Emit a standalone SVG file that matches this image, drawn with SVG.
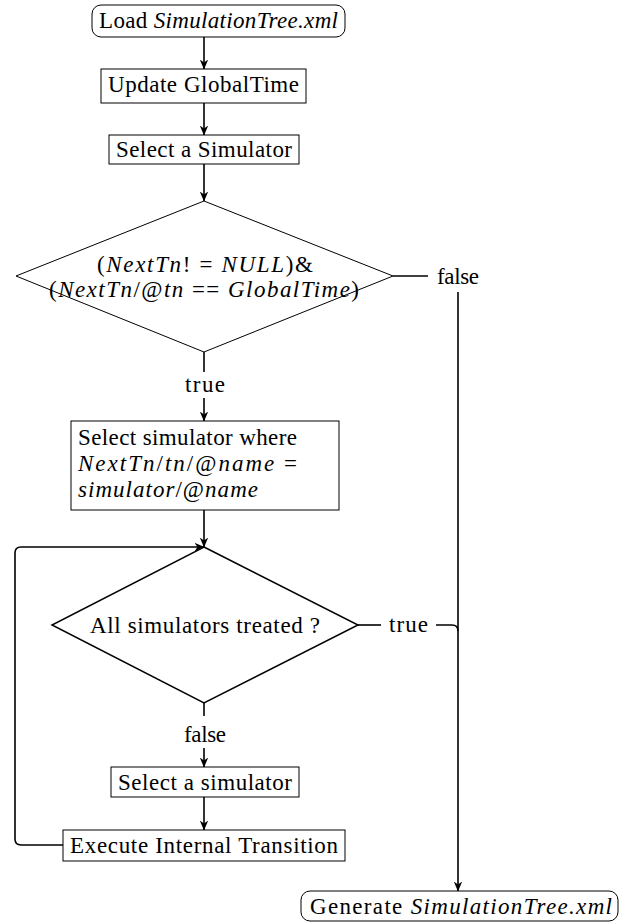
<svg xmlns="http://www.w3.org/2000/svg" width="625" height="922" viewBox="0 0 625 922">
  <style>
    text { font-family: "Liberation Serif", "Times New Roman", serif; font-size: 23px; fill: #000; }
    .it { font-style: italic; }
    .box { fill: #fff; stroke: #000; stroke-width: 1; }
    .dec1 { fill: none; stroke: #000; stroke-width: 1; }
    .dec2 { fill: none; stroke: #000; stroke-width: 1.5; }
    .edge { fill: none; stroke: #000; stroke-width: 1.6; }
    .arrow { fill: none; stroke: #000; stroke-width: 1.6; marker-end: url(#head); }
  </style>
  <defs>
    <marker id="head" markerUnits="userSpaceOnUse" viewBox="0 0 10 10" refX="9.5" refY="5" markerWidth="10" markerHeight="10" orient="auto">
      <path d="M0,0.8 L10,5 L0,9.2 L3,5 Z" fill="#000"/>
    </marker>
  </defs>

  <!-- connectors -->
  <g id="connectors">
    <path class="arrow" d="M204,37 L204,69"/>
    <path class="arrow" d="M204,103 L204,135"/>
    <path class="arrow" d="M204,164 L204,201"/>
    <path class="edge" d="M204,352 L204,372"/>
    <path class="arrow" d="M204,398 L204,421"/>
    <path class="edge" d="M393,276 L428,276"/>
    <path class="arrow" d="M458,292 L458,891"/>
    <path class="arrow" d="M204,510 L204,547"/>
    <path class="edge" d="M358,625 L381,625"/>
    <path class="edge" d="M436,625 L452,625 Q458,625 458,631"/>
    <path class="edge" d="M204,703 L204,716"/>
    <path class="arrow" d="M204,748 L204,767"/>
    <path class="arrow" d="M204,797 L204,830"/>
    <path class="arrow" d="M63,845 L21,845 Q15,845 15,839 L15,553 Q15,547 21,547 L204,547"/>
  </g>

  <g id="load">
    <rect class="box" x="92" y="5" width="253" height="32" rx="9"/>
    <text x="99" y="28" textLength="239">Load <tspan class="it">SimulationTree.xml</tspan></text>
  </g>

  <g id="update-time">
    <rect class="box" x="101" y="69" width="205" height="34"/>
    <text x="108" y="92" textLength="191">Update GlobalTime</text>
  </g>

  <g id="select-first">
    <rect class="box" x="109" y="135" width="190" height="29"/>
    <text x="116" y="157" textLength="176">Select a Simulator</text>
  </g>

  <g id="check-next">
    <path class="dec1" d="M204,201 L393,276 L204,352 L16,276 Z"/>
    <text x="97" y="272" textLength="216">(<tspan class="it">NextTn</tspan>! = <tspan class="it">NULL</tspan>)&amp;</text>
    <text x="49" y="297" textLength="310">(<tspan class="it">NextTn</tspan>/@<tspan class="it">tn</tspan> == <tspan class="it">GlobalTime</tspan>)</text>
  </g>

  <g id="label-false-1">
    <text x="437" y="284" textLength="42">false</text>
  </g>

  <g id="label-true-1">
    <text x="185" y="392" textLength="40">true</text>
  </g>

  <g id="select-where">
    <rect class="box" x="71" y="421" width="268" height="89"/>
    <text x="78" y="445" textLength="219">Select simulator where</text>
    <text x="78" y="471" textLength="219"><tspan class="it">NextTn</tspan>/<tspan class="it">tn</tspan>/@<tspan class="it">name</tspan> =</text>
    <text x="78" y="497" textLength="180"><tspan class="it">simulator</tspan>/@<tspan class="it">name</tspan></text>
  </g>

  <g id="all-treated">
    <path class="dec2" d="M204,547 L358,625 L204,703 L52,625 Z"/>
    <text x="90" y="633" textLength="230">All simulators treated ?</text>
  </g>

  <g id="label-true-2">
    <text x="389" y="632" textLength="39">true</text>
  </g>

  <g id="label-false-2">
    <text x="184" y="742" textLength="42">false</text>
  </g>

  <g id="select-next">
    <rect class="box" x="111" y="767" width="188" height="30"/>
    <text x="118" y="790" textLength="174">Select a simulator</text>
  </g>

  <g id="execute">
    <rect class="box" x="63" y="830" width="282" height="31"/>
    <text x="70" y="853" textLength="268">Execute Internal Transition</text>
  </g>

  <g id="generate">
    <rect class="box" x="301" y="891" width="317" height="30" rx="9"/>
    <text x="310" y="914" textLength="302">Generate <tspan class="it">SimulationTree.xml</tspan></text>
  </g>
</svg>
